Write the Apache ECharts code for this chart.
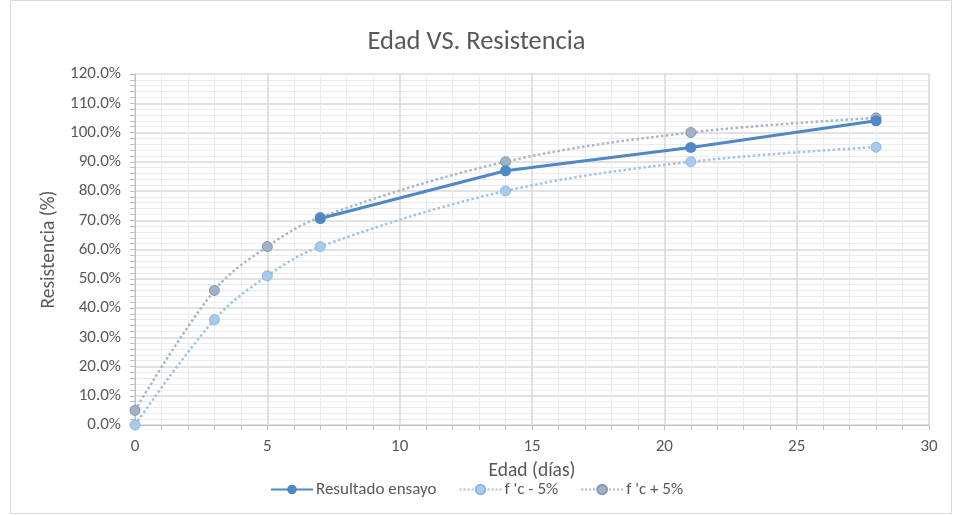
<!DOCTYPE html>
<html><head><meta charset="utf-8">
<script src="https://cdn.jsdelivr.net/npm/echarts@6/dist/echarts.min.js"></script>
<style>html,body{margin:0;padding:0;background:#fff}#c{width:953px;height:515px}</style>
</head><body><div id="c"></div>
<script>
const ensayoX = [7, 14, 21, 28];
const ensayoY = [70.6, 86.9, 94.9, 104.0];
const edadX = [0, 3, 5, 7, 14, 21, 28];
const menos5 = [0, 36, 51, 61, 80, 90, 95];
const mas5 = [5, 46, 61, 71, 90, 100, 105];
const names = ['Resultado ensayo', "f 'c - 5%", "f 'c + 5%"];

const pair = (xs, ys) => xs.map((x, i) => [x, ys[i]]);
const font = 'Calibri, Carlito, Lato, "Open Sans", sans-serif';
const chart = echarts.init(document.getElementById('c'));
chart.setOption({
  animation: false,
  backgroundColor: '#fff',
  graphic: [{type: 'rect', shape: {x: 10.5, y: 0.5, width: 941, height: 513}, style: {fill: 'none', stroke: '#d9d9d9', lineWidth: 1}, silent: true}],
  title: {text: 'Edad VS. Resistencia', left: 'center', top: 24, textStyle: {fontFamily: font, fontSize: 26.5, fontWeight: 'normal', color: '#595959'}},
  grid: {left: 135, right: 24, top: 74, bottom: 90},
  xAxis: {
    type: 'value', min: 0, max: 30, interval: 5,
    name: 'Edad (días)', nameLocation: 'middle', nameGap: 36,
    nameTextStyle: {fontFamily: font, fontSize: 19.5, color: '#595959'},
    axisLine: {show: true, lineStyle: {color: '#bfbfbf'}},
    axisTick: {show: true, inside: false, length: 5, lineStyle: {color: '#bfbfbf'}},
    minorTick: {show: true, splitNumber: 5, length: 5, lineStyle: {color: '#bfbfbf'}},
    axisLabel: {fontFamily: font, fontSize: 17, color: '#595959', margin: 13},
    splitLine: {show: true, lineStyle: {color: '#d9d9d9', width: 1.5}},
    minorSplitLine: {show: true, lineStyle: {color: '#ececec', width: 1}}
  },
  yAxis: {
    type: 'value', min: 0, max: 120, interval: 10,
    name: 'Resistencia (%)', nameLocation: 'middle', nameGap: 74, nameRotate: 90,
    nameTextStyle: {fontFamily: font, fontSize: 19.5, color: '#595959'},
    axisLine: {show: true, lineStyle: {color: '#bfbfbf'}},
    axisTick: {show: true, length: 5, lineStyle: {color: '#bfbfbf'}},
    minorTick: {show: true, splitNumber: 5, length: 5, lineStyle: {color: '#bfbfbf'}},
    axisLabel: {fontFamily: font, fontSize: 17, color: '#595959', margin: 14, formatter: v => v.toFixed(1) + '%'},
    splitLine: {show: true, lineStyle: {color: '#d9d9d9', width: 1.5}},
    minorSplitLine: {show: true, lineStyle: {color: '#ececec', width: 1}}
  },
  legend: {
    bottom: 12, left: 'center', itemGap: 22, itemWidth: 42, itemHeight: 12,
    textStyle: {fontFamily: font, fontSize: 17, color: '#595959', padding: [0, 0, 0, -2]},
    data: names
  },
  series: [
    {name: names[1], type: 'line', smooth: 0.35, data: pair(edadX, menos5), symbol: 'circle', symbolSize: 10,
      lineStyle: {color: '#9dc3e6', width: 2.5, type: 'dotted'},
      itemStyle: {color: '#a9cbeb', borderColor: '#8db7e0', borderWidth: 1}},
    {name: names[2], type: 'line', smooth: 0.35, data: pair(edadX, mas5), symbol: 'circle', symbolSize: 10,
      lineStyle: {color: '#a7b6c9', width: 2.5, type: 'dotted'},
      itemStyle: {color: '#a1b1c6', borderColor: '#8597b0', borderWidth: 1}},
    {name: names[0], type: 'line', data: pair(ensayoX, ensayoY), symbol: 'circle', symbolSize: 11,
      lineStyle: {color: '#4f88c6', width: 3},
      itemStyle: {color: '#4f88c6'}}
  ]
});
</script></body></html>
